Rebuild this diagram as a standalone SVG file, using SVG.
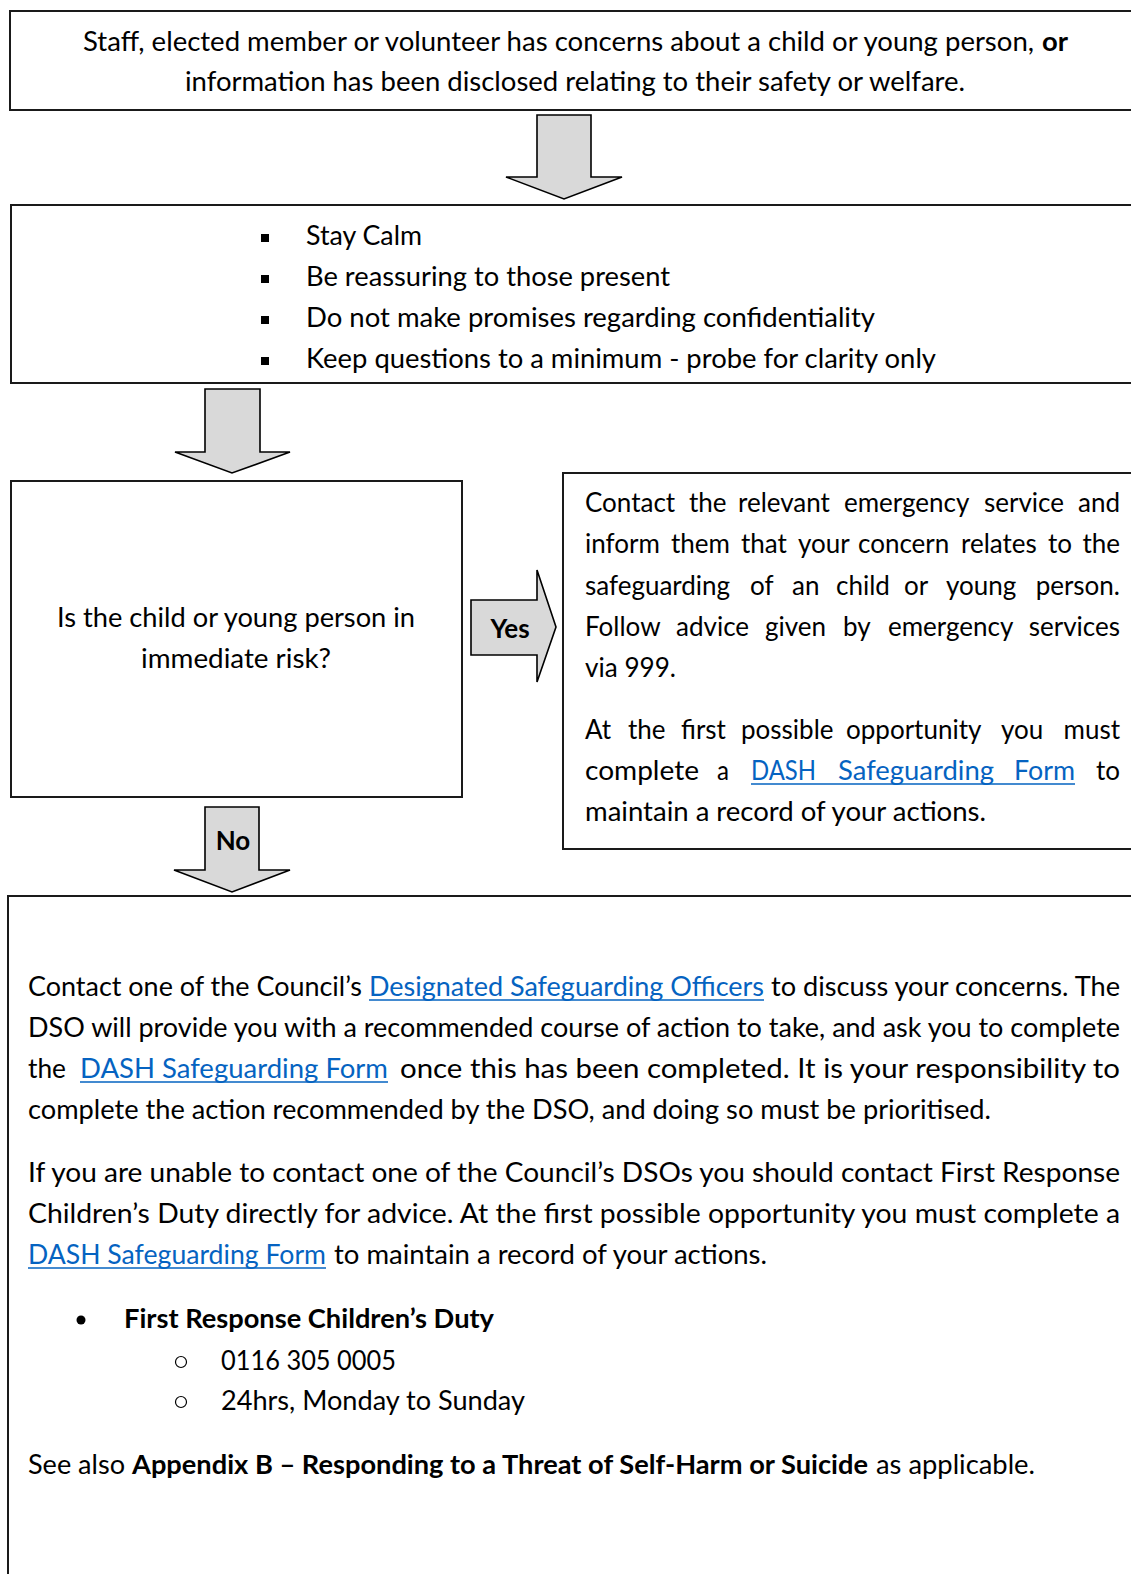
<svg xmlns="http://www.w3.org/2000/svg" width="1131" height="1574" viewBox="0 0 1131 1574">
<style>
.box{fill:#fff;stroke:#1a1a1a;stroke-width:2}
.arr{fill:#d9d9d9;stroke:#000;stroke-width:1.6;stroke-linejoin:miter}
text{font-family:Lato,"Open Sans",sans-serif;font-size:26px;fill:#000}
.b{font-weight:bold}
.lk{fill:#0563c1}
.ul{stroke:#0563c1;stroke-width:1.5}
.c{text-anchor:middle}
.e{text-anchor:end}
</style>
<rect width="1131" height="1574" fill="#fff"/>
<g id="connectors">
<path class="arr" d="M537,115 H591 V177 H622 L564,199 L506,177 H537 Z"/>
<path class="arr" d="M205,389 H260 V452 H290 L232,473 L175,452 H205 Z"/>
<path class="arr" d="M471,600 H537 V570 L556,627 L537,682 V655 H471 Z"/>
<text class="b c" x="510" y="638">Yes</text>
<path class="arr" d="M205,807 H259 V870 H290 L232,892 L174,870 H205 Z"/>
<text class="b c" x="233" y="850">No</text>
</g>
<g id="node-concern">
<rect class="box" x="10" y="11" width="1140" height="99"/>
<text x="83" y="51" textLength="951" lengthAdjust="spacingAndGlyphs">Staff, elected member or volunteer has concerns about a child or young person,</text>
<text class="b" x="1042" y="51" textLength="26" lengthAdjust="spacingAndGlyphs">or</text>
<text x="185" y="91" textLength="780" lengthAdjust="spacingAndGlyphs">information has been disclosed relating to their safety or welfare.</text>
</g>
<g id="node-calm">
<rect class="box" x="11" y="205" width="1140" height="178"/>
<rect x="261" y="234" width="8" height="8"/>
<rect x="261" y="275" width="8" height="8"/>
<rect x="261" y="316" width="8" height="8"/>
<rect x="261" y="357" width="8" height="8"/>
<text x="306" y="245" textLength="116" lengthAdjust="spacingAndGlyphs">Stay Calm</text>
<text x="306" y="286" textLength="364" lengthAdjust="spacingAndGlyphs">Be reassuring to those present</text>
<text x="306" y="327" textLength="569" lengthAdjust="spacingAndGlyphs">Do not make promises regarding confidentiality</text>
<text x="306" y="368" textLength="630" lengthAdjust="spacingAndGlyphs">Keep questions to a minimum - probe for clarity only</text>
</g>
<g id="node-risk">
<rect class="box" x="11" y="481" width="451" height="316"/>
<text x="57" y="627" textLength="358" lengthAdjust="spacingAndGlyphs">Is the child or young person in</text>
<text x="141" y="668" textLength="190" lengthAdjust="spacingAndGlyphs">immediate risk?</text>
</g>
<g id="node-emergency">
<rect class="box" x="563" y="473" width="600" height="376"/>
<text y="512"><tspan x="585">Contact</tspan><tspan x="689">the</tspan><tspan x="738">relevant</tspan><tspan x="844">emergency</tspan><tspan x="984">service</tspan></text>
<text class="e" x="1120" y="512">and</text>
<text y="553"><tspan x="585">inform</tspan><tspan x="671">them</tspan><tspan x="741">that</tspan><tspan x="798">your</tspan><tspan x="858">concern</tspan><tspan x="961">relates</tspan><tspan x="1048">to</tspan></text>
<text class="e" x="1120" y="553">the</text>
<text y="595"><tspan x="585">safeguarding</tspan><tspan x="750">of</tspan><tspan x="792">an</tspan><tspan x="836">child</tspan><tspan x="904">or</tspan><tspan x="946">young</tspan></text>
<text class="e" x="1120" y="595">person.</text>
<text y="636"><tspan x="585">Follow</tspan><tspan x="676">advice</tspan><tspan x="765">given</tspan><tspan x="843">by</tspan><tspan x="888">emergency</tspan></text>
<text class="e" x="1120" y="636">services</text>
<text x="585" y="677" textLength="91" lengthAdjust="spacingAndGlyphs">via 999.</text>
<text y="739"><tspan x="585">At</tspan><tspan x="628">the</tspan><tspan x="681">first</tspan><tspan x="741">possible</tspan><tspan x="846">opportunity</tspan><tspan x="1001">you</tspan></text>
<text class="e" x="1120" y="739">must</text>
<text x="585" y="780" textLength="114" lengthAdjust="spacingAndGlyphs">complete</text>
<text x="717" y="780" textLength="12" lengthAdjust="spacingAndGlyphs">a</text>
<text class="lk" x="751" y="780" textLength="65" lengthAdjust="spacingAndGlyphs">DASH</text>
<text class="lk" x="838" y="780" textLength="156" lengthAdjust="spacingAndGlyphs">Safeguarding</text>
<text class="lk" x="1014" y="780" textLength="61" lengthAdjust="spacingAndGlyphs">Form</text>
<line class="ul" x1="751" y1="784" x2="1075" y2="784"/>
<text class="e" x="1120" y="780">to</text>
<text x="585" y="821" textLength="401" lengthAdjust="spacingAndGlyphs">maintain a record of your actions.</text>
</g>
<g id="node-contact-dso">
<rect class="box" x="8" y="896" width="1150" height="700"/>
<text x="28" y="996" textLength="334" lengthAdjust="spacingAndGlyphs">Contact one of the Council’s</text>
<text class="lk" x="369" y="996" textLength="395" lengthAdjust="spacingAndGlyphs">Designated Safeguarding Officers</text>
<line class="ul" x1="369" y1="1000" x2="764" y2="1000"/>
<text x="771" y="996" textLength="349" lengthAdjust="spacingAndGlyphs">to discuss your concerns. The</text>
<text x="28" y="1037" textLength="1092" lengthAdjust="spacingAndGlyphs">DSO will provide you with a recommended course of action to take, and ask you to complete</text>
<text x="28" y="1078" textLength="38" lengthAdjust="spacingAndGlyphs">the</text>
<text class="lk" x="80" y="1078" textLength="308" lengthAdjust="spacingAndGlyphs">DASH Safeguarding Form</text>
<line class="ul" x1="80" y1="1082" x2="388" y2="1082"/>
<text x="400" y="1078" textLength="720" lengthAdjust="spacingAndGlyphs">once this has been completed. It is your responsibility to</text>
<text x="28" y="1119" textLength="963" lengthAdjust="spacingAndGlyphs">complete the action recommended by the DSO, and doing so must be prioritised.</text>
<text x="28" y="1182" textLength="1092" lengthAdjust="spacingAndGlyphs">If you are unable to contact one of the Council’s DSOs you should contact First Response</text>
<text x="28" y="1223" textLength="1092" lengthAdjust="spacingAndGlyphs">Children’s Duty directly for advice. At the first possible opportunity you must complete a</text>
<text class="lk" x="28" y="1264" textLength="298" lengthAdjust="spacingAndGlyphs">DASH Safeguarding Form</text>
<line class="ul" x1="28" y1="1268" x2="326" y2="1268"/>
<text x="334" y="1264" textLength="433" lengthAdjust="spacingAndGlyphs">to maintain a record of your actions.</text>
<circle cx="81" cy="1320" r="4.5"/>
<text class="b" x="124" y="1328" textLength="370" lengthAdjust="spacingAndGlyphs">First Response Children’s Duty</text>
<circle cx="181" cy="1362" r="5.5" fill="none" stroke="#000" stroke-width="1.2"/>
<text x="221" y="1370" textLength="175" lengthAdjust="spacingAndGlyphs">0116 305 0005</text>
<circle cx="181" cy="1402" r="5.5" fill="none" stroke="#000" stroke-width="1.2"/>
<text x="221" y="1410" textLength="304" lengthAdjust="spacingAndGlyphs">24hrs, Monday to Sunday</text>
<text x="28" y="1474" textLength="97" lengthAdjust="spacingAndGlyphs">See also</text>
<text class="b" x="132" y="1474" textLength="736" lengthAdjust="spacingAndGlyphs">Appendix B – Responding to a Threat of Self-Harm or Suicide</text>
<text x="876" y="1474" textLength="159" lengthAdjust="spacingAndGlyphs">as applicable.</text>
</g>
</svg>
